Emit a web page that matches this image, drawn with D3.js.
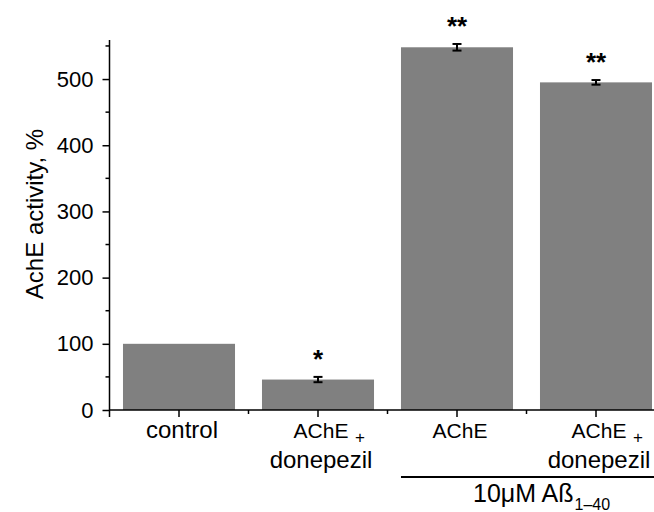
<!DOCTYPE html>
<html>
<head>
<meta charset="utf-8">
<script src="https://cdn.jsdelivr.net/npm/d3@7"></script>
<style>
  body { margin: 0; background: #fff; }
  svg { display: block; font-family: "Liberation Sans", Arial, sans-serif; }
</style>
</head>
<body>
<svg id="chart" width="654" height="512"></svg>
<script>
"use strict";

// data
const categories = ["control", "AChE + donepezil", "AChE (Ab)", "AChE + donepezil (Ab)"];
const values = [100, 46, 548, 495];
const errors = [0, 4, 5, 3.5];
const stars = ["", "*", "**", "**"];
const labelTop = ["control", "AChE", "AChE", "AChE"];
const labelPlus = [false, true, false, true];
const labelBottom = ["", "donepezil", "", "donepezil"];
const yTicks = [0, 100, 200, 300, 400, 500];
const yMinorTicks = [50, 150, 250, 350, 450, 550];
const groupLabel = "10\u03bcM A\u00df";
const groupSub = "1\u201340";
const groupFrom = 2; // bars under the Aß bracket

const svg = d3.select("#chart");
const x0 = 109.5, x1 = 665.5, yTop = 40, yBase = 410;

const x = d3.scaleBand()
  .domain(categories)
  .range([x0, x1])
  .paddingInner(0.194)
  .paddingOuter(0.097);

const y = d3.scaleLinear()
  .domain([0, 559])
  .range([yBase, yTop]);

const data = categories.map((c, i) => ({ c, v: values[i], e: errors[i], s: stars[i] }));

// bars
svg.append("g")
  .selectAll("rect")
  .data(data)
  .join("rect")
  .attr("x", d => x(d.c))
  .attr("width", x.bandwidth())
  .attr("y", d => y(d.v))
  .attr("height", d => y(0) - y(d.v))
  .attr("fill", "#808080");

// error bars
const err = svg.append("g")
  .selectAll("g")
  .data(data.filter(d => d.e > 0))
  .join("g")
  .attr("stroke", "#000")
  .attr("stroke-width", 2);
const cx = d => x(d.c) + x.bandwidth() / 2;
err.append("line")
  .attr("x1", cx).attr("x2", cx)
  .attr("y1", d => y(d.v + d.e)).attr("y2", d => y(d.v - d.e));
err.append("line")
  .attr("x1", d => cx(d) - 4.5).attr("x2", d => cx(d) + 4.5)
  .attr("y1", d => y(d.v + d.e)).attr("y2", d => y(d.v + d.e));
err.append("line")
  .attr("x1", d => cx(d) - 4.5).attr("x2", d => cx(d) + 4.5)
  .attr("y1", d => y(d.v - d.e)).attr("y2", d => y(d.v - d.e));

// significance stars
svg.append("g")
  .selectAll("text")
  .data(data.filter(d => d.s))
  .join("text")
  .attr("x", cx)
  .attr("y", d => y(d.v + d.e) - 9)
  .attr("text-anchor", "middle")
  .attr("font-size", 26)
  .attr("font-weight", "bold")
  .text(d => d.s);

// y axis
const yAxis = svg.append("g")
  .attr("transform", `translate(${x0},0)`)
  .call(d3.axisLeft(y).tickValues(yTicks).tickSize(7).tickSizeOuter(0).tickFormat(d3.format("d")));
yAxis.select(".domain").attr("d", `M0,${yTop}V${yBase + 7}`).attr("stroke-width", 1.5);
yAxis.selectAll(".tick line").attr("stroke-width", 1.5);
yAxis.selectAll(".tick text")
  .attr("font-size", 22)
  .attr("font-family", "Liberation Sans, Arial, sans-serif")
  .attr("x", -16)
  .attr("fill", "#000");
yAxis.selectAll(".minor")
  .data(yMinorTicks)
  .join("line")
  .attr("class", "minor")
  .attr("x1", -4).attr("x2", 0)
  .attr("y1", d => y(d)).attr("y2", d => y(d))
  .attr("stroke", "#000").attr("stroke-width", 1.5);

// x axis
const xAxis = svg.append("g")
  .attr("transform", `translate(0,${yBase})`)
  .call(d3.axisBottom(x).tickSize(7).tickSizeOuter(0).tickFormat(""));
xAxis.select(".domain").attr("d", `M${x0},0H${x1}`).attr("stroke-width", 1.5);
xAxis.selectAll(".tick line").attr("stroke-width", 1.5);
const bounds = categories.slice(1).map(c => x(c) - x.step() * x.paddingInner() / 2);
xAxis.selectAll(".minor")
  .data(bounds)
  .join("line")
  .attr("class", "minor")
  .attr("x1", d => d).attr("x2", d => d)
  .attr("y1", 0).attr("y2", 4)
  .attr("stroke", "#000").attr("stroke-width", 1.5);

// category labels
const lab = svg.append("g")
  .selectAll("g")
  .data(categories)
  .join("g")
  .attr("transform", c => `translate(${x(c) + x.bandwidth() / 2 + 3},0)`);
lab.append("text")
  .attr("y", 438)
  .attr("text-anchor", "middle")
  .attr("font-size", (c, i) => i === 0 ? 24 : 21)
  .text((c, i) => labelTop[i]);
lab.filter((c, i) => labelPlus[i])
  .append("text")
  .attr("x", 34)
  .attr("y", 443)
  .attr("font-size", 17)
  .text("+");
lab.append("text")
  .attr("y", 468)
  .attr("text-anchor", "middle")
  .attr("font-size", 24)
  .text((c, i) => labelBottom[i]);

// group bracket for Aß
const gx0 = x(categories[groupFrom]), gx1 = x1;
svg.append("line")
  .attr("x1", gx0).attr("x2", gx1)
  .attr("y1", 477).attr("y2", 477)
  .attr("stroke", "#000").attr("stroke-width", 2);
const gt = svg.append("text")
  .attr("x", 473)
  .attr("y", 502)
  .attr("font-size", 25);
gt.append("tspan").text(groupLabel);
gt.append("tspan").attr("font-size", 16).attr("dy", 8).attr("dx", 1).text(groupSub);

// y title
svg.append("text")
  .attr("transform", "translate(43,214) rotate(-90)")
  .attr("text-anchor", "middle")
  .attr("font-size", 24)
  .text("AchE activity, %");
</script>
</body>
</html>
